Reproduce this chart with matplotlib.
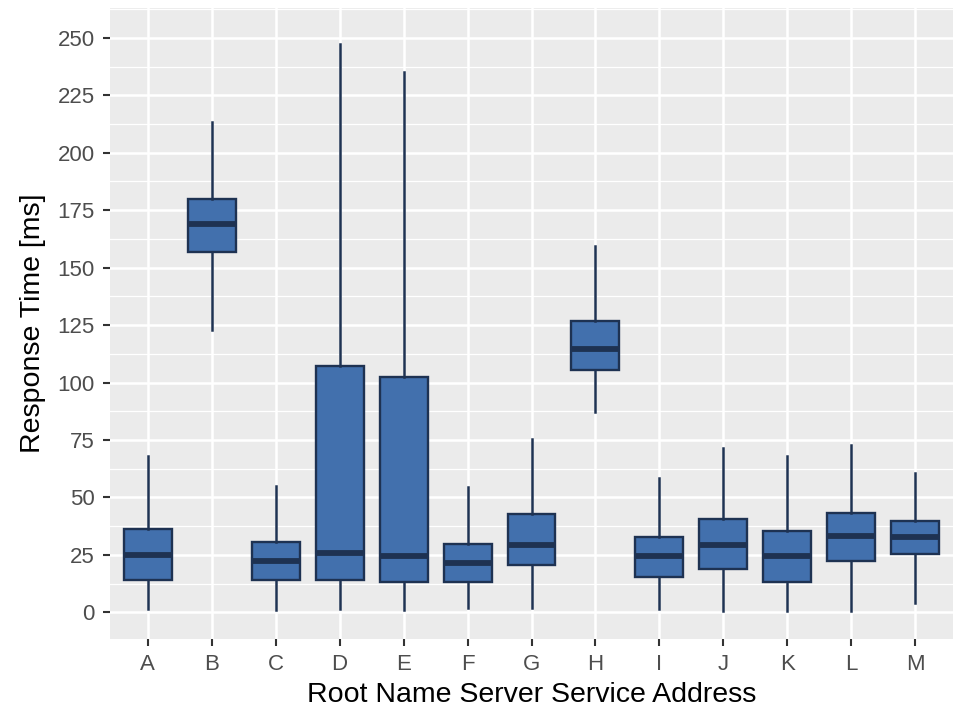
import matplotlib
matplotlib.use("Agg")
import matplotlib.pyplot as plt
from matplotlib.ticker import MultipleLocator

categories = ["A", "B", "C", "D", "E", "F", "G", "H", "I", "J", "K", "L", "M"]
whisker_low = [1.3, 122.8, 1.0, 1.3, 1.0, 1.7, 1.7, 87.3, 1.3, 0.7, 0.7, 0.7, 4.2]
q1 = [14.1, 156.7, 14.1, 14.1, 13.2, 13.0, 20.6, 105.4, 15.5, 19.0, 13.3, 22.5, 25.4]
median = [24.9, 169.0, 22.5, 25.7, 24.6, 21.3, 29.3, 114.4, 24.5, 29.3, 24.4, 33.2, 32.6]
q3 = [36.1, 179.7, 30.6, 107.3, 102.3, 29.7, 42.8, 126.9, 32.9, 40.5, 35.4, 43.1, 39.7]
whisker_high = [68.1, 213.5, 55.1, 247.2, 235.3, 54.4, 75.4, 159.5, 58.3, 71.6, 68.0, 72.8, 60.8]
y_ticks = [0, 25, 50, 75, 100, 125, 150, 175, 200, 225, 250]

plt.rcParams['font.family'] = ['Liberation Sans', 'DejaVu Sans']

fig = plt.figure(figsize=(9.57, 7.12), dpi=100)
ax = fig.add_axes([110/957, 1-639/712, (953-110)/957, (639-8)/712])
ax.set_facecolor('#EBEBEB')

stats = []
for i, c in enumerate(categories):
    stats.append(dict(label=c, whislo=whisker_low[i], q1=q1[i], med=median[i],
                      q3=q3[i], whishi=whisker_high[i], fliers=[]))

edge = '#1E3252'
fill = '#4270AD'
ax.bxp(stats, positions=range(1, len(categories)+1), widths=0.75, patch_artist=True,
       showcaps=False, showfliers=False,
       boxprops=dict(facecolor=fill, edgecolor=edge, linewidth=1.7),
       medianprops=dict(color=edge, linewidth=4.2, solid_capstyle='butt'),
       whiskerprops=dict(color=edge, linewidth=1.8), zorder=3)

ax.set_xlim(0.41, 13.59)
ax.set_ylim(-11.6, 263)
ax.set_yticks(y_ticks)
ax.set_yticklabels([str(t) for t in y_ticks])
ax.yaxis.set_minor_locator(MultipleLocator(12.5))
ax.set_xticks(range(1, len(categories)+1))
ax.set_xticklabels(categories)

ax.grid(which='major', color='white', linewidth=1.8, zorder=0)
ax.grid(which='minor', axis='y', color='white', linewidth=0.9, zorder=0)
ax.set_axisbelow(True)
for s in ax.spines.values():
    s.set_visible(False)

ax.tick_params(axis='both', which='major', length=5, width=1.5, color='#333333',
               labelcolor='#4D4D4D', labelsize=16)
ax.tick_params(axis='x', which='major', pad=6)
ax.tick_params(axis='y', which='major', pad=6)
ax.tick_params(axis='y', which='minor', length=0)

ax.set_xlabel('Root Name Server Service Address', fontsize=20.5, color='black', labelpad=5)
ax.set_ylabel('Response Time [ms]', fontsize=20.5, color='black', labelpad=8)

fig.savefig('out.png', dpi=100)
